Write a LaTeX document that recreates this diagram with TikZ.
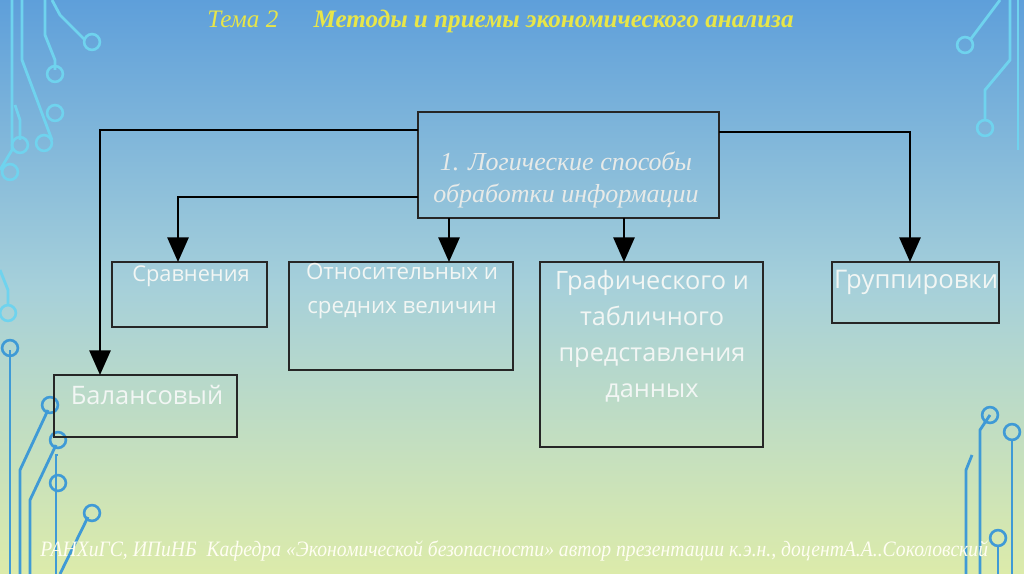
\documentclass[tikz,border=0pt]{standalone}
\usepackage{fontspec}
\setmainfont{Liberation Serif}
\newfontfamily\boxfont{Open Sans}
\usetikzlibrary{arrows.meta}
\definecolor{txt}{HTML}{F2F6F4}
\definecolor{ttl}{HTML}{E8E648}
\definecolor{circA}{HTML}{6FD3EE}
\definecolor{circB}{HTML}{3F9AD6}
\definecolor{bgT}{HTML}{5E9FDA}
\definecolor{bgM}{HTML}{A6D0DA}
\definecolor{bgB}{HTML}{DCEBAA}
\begin{document}
\begin{tikzpicture}[x=0.02cm,y=-0.02cm,
  box/.style={draw=black!85,line width=0.8pt},
  btxt/.style={font=\boxfont,text=txt,align=center,inner sep=0pt},
  arr/.style={line width=1.4pt,-{Triangle[width=12pt,length=14pt]}},
  circ/.style={line width=1.6pt,draw=#1},
  pad/.style={circle,draw=#1,line width=1.5pt,inner sep=0pt,minimum size=9pt}]
\shade[top color=bgT, bottom color=bgB, middle color=bgM] (0,0) rectangle (1024,574);
\useasboundingbox (0,0) rectangle (1024,574);
% decorations left
\draw[circ=circA] (12,0)--(12,150)--(0,170);
\draw[circ=circA] (22,0)--(22,60)--(52,140);
\draw[circ=circA] (45,0)--(45,35)--(55,60)--(55,70);
\draw[circ=circA] (52,0)--(60,15)--(85,40);
\draw[circ=circA] (15,105)--(20,120)--(20,140);
\node[pad=circA] at (92,42) {}; \node[pad=circA] at (55,74) {};
\node[pad=circA] at (55,113) {}; \node[pad=circA] at (44,143) {};
\node[pad=circA] at (10,172) {}; \node[pad=circA] at (20,145) {};
\draw[circ=circA] (0,270)--(8,290)--(8,305);
\node[pad=circA] at (8,313) {};
\draw[circ=circB] (10,350)--(10,574); \node[pad=circB] at (10,348) {};
\draw[circ=circB] (20,574)--(20,470)--(48,410); \node[pad=circB] at (50,405) {};
\draw[circ=circB] (30,574)--(30,500)--(56,445); \node[pad=circB] at (58,440) {};
\draw[circ=circB] (56,574)--(56,455)--(58,455); \node[pad=circB] at (58,483) {};
\draw[circ=circB] (60,574)--(88,517); \node[pad=circB] at (92,513) {};
% decorations right
\draw[circ=circA] (1010,0)--(1010,60)--(985,90)--(985,120); \node[pad=circA] at (985,128) {};
\draw[circ=circA] (1000,0)--(970,40); \node[pad=circA] at (965,45) {};
\draw[circ=circA] (1018,0)--(1018,150);
\draw[circ=circB] (980,574)--(980,430)--(990,415); \node[pad=circB] at (990,415) {};
\draw[circ=circB] (998,574)--(998,545); \node[pad=circB] at (998,538) {};
\draw[circ=circB] (1012,574)--(1012,440); \node[pad=circB] at (1012,432) {};
\draw[circ=circB] (966,574)--(966,470)--(972,455);
% title
\node[anchor=west,inner sep=0pt,font=\itshape\fontsize{14.3}{17}\selectfont,text=ttl] (title) at (207,21) {Тема 2\hspace{1.4em}\textbf{Методы и приемы экономического анализа}};
% boxes
\draw[box] (418,112) rectangle (719,218);
\node[font=\itshape\fontsize{14.8}{18}\selectfont,text=txt!90!gray,align=center] (main) at (566,180) {1. Логические способы\\обработки информации};
\draw[box] (112,262) rectangle (267,327);
\node[btxt,font=\boxfont\fontsize{12.4}{17}\selectfont] (s1) at (191,276) {Сравнения};
\draw[box] (289,262) rectangle (513,370);
\node[btxt,font=\boxfont\fontsize{12.7}{19}\selectfont] (s2) at (402,291) {Относительных и\\средних величин};
\draw[box] (540,262) rectangle (763,447);
\node[btxt,font=\boxfont\fontsize{14.4}{20.4}\selectfont] (s3) at (652,336) {Графического и\\табличного\\представления\\данных};
\draw[box] (832,262) rectangle (999,323);
\node[btxt,font=\boxfont\fontsize{14.6}{20}\selectfont] (s4) at (916,282) {Группировки};
\draw[box] (54,375) rectangle (237,437);
\node[btxt,font=\boxfont\fontsize{14.5}{20}\selectfont] (s5) at (147,395) {Балансовый};
% connectors
\coordinate (a1) at (418,130); \coordinate (b1) at (100,375);
\draw[arr] (a1) -| (b1);
\coordinate (a2) at (719,132); \coordinate (b2) at (910,262);
\draw[arr] (a2) -| (b2);
\coordinate (a3) at (418,197); \coordinate (b3) at (178,262);
\draw[arr] (a3) -| (b3);
\coordinate (a4) at (449,218); \coordinate (b4) at (449,262);
\draw[arr] (a4) -- (b4);
\coordinate (a5) at (624,218); \coordinate (b5) at (624,262);
\draw[arr] (a5) -- (b5);
% footer
\node[anchor=west,inner sep=0pt,font=\itshape\fontsize{12.5}{15}\selectfont,text=white!95!yellow,xscale=0.895] (foot) at (40,551) {РАНХиГС, ИПиНБ\ \ Кафедра «Экономической безопасности» автор презентации к.э.н., доцентА.А..Соколовский};
\end{tikzpicture}
\end{document}
